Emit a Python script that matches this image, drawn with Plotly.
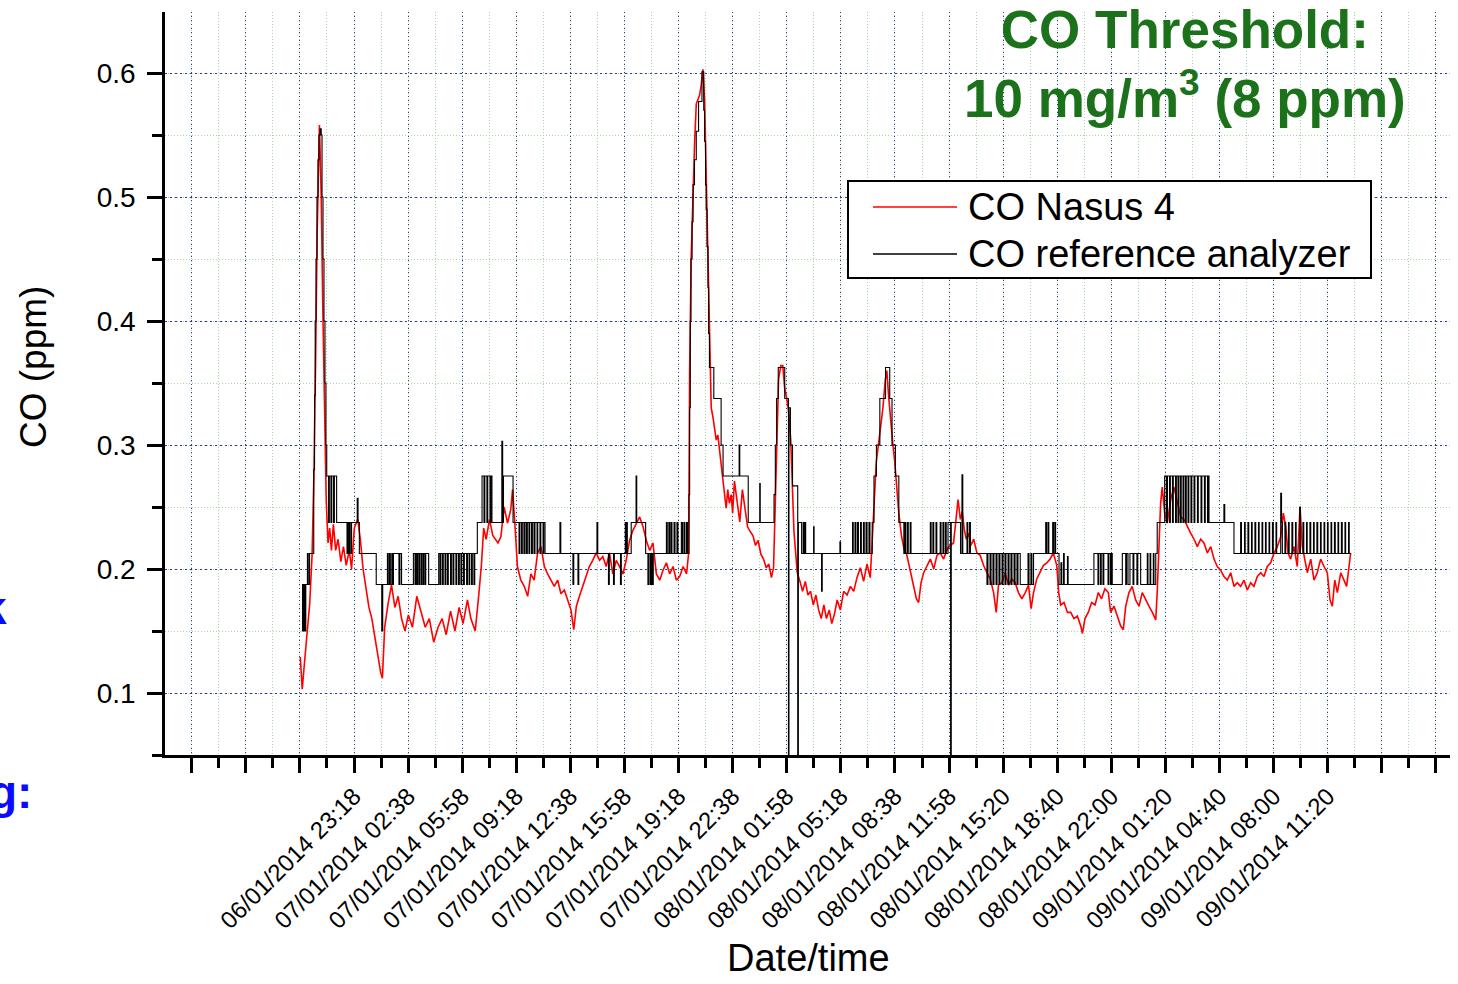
import plotly.graph_objects as go

# ---------------- data (hours after 06/01/2014 23:18, CO in ppm) ----------------
nasus_hours = [
    -3.31, -3.19, -3.06, -2.90, -2.73, -2.58, -2.48, -2.37, -2.27, -2.13, -2.02, -1.92, -1.81, -1.71, -1.60,
    -1.50, -1.39, -1.27, -1.13, -0.98, -0.81, -0.65, -0.48, -0.29, -0.15, 0.02, 0.23, 0.39, 0.56, 0.75,
    0.92, 1.10, 1.27, 1.48, 1.65, 1.75, 1.89, 2.10, 2.31, 2.52, 2.72, 2.93, 3.14, 3.35, 3.60,
    3.87, 4.14, 4.39, 4.64, 4.91, 5.18, 5.43, 5.68, 5.95, 6.22, 6.48, 6.72, 6.99, 7.20, 7.47,
    7.68, 7.85, 7.99, 8.14, 8.35, 8.55, 8.87, 9.05, 9.25, 9.46, 9.66, 9.77, 9.91, 10.07, 10.28,
    10.49, 10.70, 10.90, 11.10, 11.31, 11.52, 11.73, 11.93, 12.14, 12.34, 12.55, 12.75, 12.96, 13.17, 13.37,
    13.54, 13.70, 13.89, 14.09, 14.30, 14.50, 14.71, 14.92, 15.13, 15.33, 15.54, 15.74, 15.95, 16.16, 16.36,
    16.57, 16.77, 16.98, 17.18, 17.39, 17.60, 17.81, 18.01, 18.22, 18.42, 18.63, 18.84, 19.04, 19.25, 19.45,
    19.66, 19.86, 20.07, 20.28, 20.49, 20.62, 20.68, 20.78, 20.88, 20.99, 21.09, 21.19, 21.29, 21.39, 21.50,
    21.60, 21.70, 21.81, 21.90, 22.01, 22.11, 22.21, 22.32, 22.42, 22.52, 22.62, 22.72, 22.82, 22.93, 23.03,
    23.13, 23.24, 23.33, 23.44, 23.60, 23.77, 23.93, 24.09, 24.25, 24.42, 24.58, 24.74, 24.90, 25.07, 25.23,
    25.40, 25.56, 25.72, 25.85, 25.95, 26.05, 26.16, 26.30, 26.42, 26.54, 26.66, 26.78, 26.91, 27.01, 27.11,
    27.22, 27.31, 27.48, 27.64, 27.81, 27.97, 28.13, 28.30, 28.46, 28.63, 28.79, 28.95, 29.11, 29.28, 29.44,
    29.61, 29.77, 29.97, 30.17, 30.38, 30.59, 30.79, 30.99, 31.20, 31.40, 31.61, 31.81, 31.94, 32.05, 32.18,
    32.32, 32.47, 32.59, 32.73, 32.83, 32.95, 33.08, 33.20, 33.32, 33.44, 33.57, 33.73, 33.89, 34.05, 34.28,
    34.49, 34.65, 34.79, 34.94, 35.10, 35.31, 35.51, 35.72, 35.92, 36.12, 36.33, 36.54, 36.74, 36.94, 37.09,
    37.22, 37.36, 37.48, 37.60, 37.73, 37.87, 38.01, 38.18, 38.38, 38.58, 38.79, 39.00, 39.20, 39.41, 39.57,
    39.71, 39.92, 40.12, 40.33, 40.53, 40.74, 40.94, 41.15, 41.36, 41.56, 41.72, 41.87, 42.07, 42.27, 42.48,
    42.69, 42.89, 43.09, 43.30, 43.42, 43.54, 43.75, 43.96, 44.16, 44.36, 44.57, 44.78, 44.88, 45.04, 45.24,
    45.45, 45.66, 45.86, 46.06, 46.27, 46.48, 46.62, 46.83, 47.03, 47.24, 47.40, 47.55, 47.75, 47.95, 48.16,
    48.37, 48.57, 48.78, 48.98, 49.19, 49.40, 49.49, 49.60, 49.70, 49.80, 49.95, 50.11, 50.32, 50.52, 50.73,
    50.94, 51.14, 51.34, 51.55, 51.76, 51.96, 52.17, 52.37, 52.58, 52.79, 52.99, 53.19, 53.40, 53.60, 53.81,
    54.02, 54.22, 54.42, 54.63, 54.84, 55.04, 55.25, 55.45, 55.66, 55.87, 56.07, 56.27, 56.48, 56.69, 56.89,
    57.10, 57.26, 57.41, 57.55, 57.71, 57.92, 58.12, 58.29, 58.43, 58.58, 58.74, 58.95, 59.15, 59.35, 59.56,
    59.77, 59.97, 60.14, 60.28, 60.43, 60.59, 60.80, 61.00, 61.16, 61.31, 61.41,
]
nasus_ppm = [
    0.129, 0.103, 0.123, 0.147, 0.172, 0.212, 0.270, 0.363, 0.470, 0.558, 0.501, 0.409, 0.316, 0.255, 0.221,
    0.233, 0.215, 0.236, 0.215, 0.224, 0.206, 0.218, 0.203, 0.215, 0.200, 0.233, 0.240, 0.224, 0.200, 0.184,
    0.169, 0.160, 0.147, 0.132, 0.116, 0.112, 0.153, 0.172, 0.187, 0.169, 0.178, 0.160, 0.150, 0.163, 0.153,
    0.178, 0.166, 0.153, 0.160, 0.141, 0.153, 0.160, 0.147, 0.166, 0.150, 0.169, 0.156, 0.175, 0.160, 0.150,
    0.178, 0.203, 0.233, 0.224, 0.240, 0.227, 0.221, 0.226, 0.250, 0.237, 0.248, 0.264, 0.237, 0.202, 0.191,
    0.186, 0.178, 0.196, 0.191, 0.213, 0.218, 0.202, 0.196, 0.191, 0.186, 0.191, 0.180, 0.183, 0.175, 0.167,
    0.151, 0.170, 0.178, 0.186, 0.194, 0.202, 0.207, 0.213, 0.207, 0.210, 0.202, 0.213, 0.196, 0.207, 0.202,
    0.196, 0.207, 0.223, 0.231, 0.237, 0.242, 0.234, 0.223, 0.215, 0.221, 0.196, 0.191, 0.199, 0.205, 0.196,
    0.202, 0.191, 0.194, 0.202, 0.196, 0.213, 0.360, 0.453, 0.508, 0.545, 0.575, 0.579, 0.582, 0.590, 0.603,
    0.579, 0.516, 0.453, 0.404, 0.330, 0.323, 0.312, 0.304, 0.308, 0.297, 0.286, 0.275, 0.264, 0.249, 0.264,
    0.253, 0.260, 0.245, 0.271, 0.253, 0.238, 0.264, 0.249, 0.234, 0.230, 0.227, 0.219, 0.223, 0.212, 0.208,
    0.201, 0.204, 0.193, 0.201, 0.249, 0.304, 0.353, 0.364, 0.364, 0.345, 0.338, 0.327, 0.304, 0.267, 0.230,
    0.212, 0.197, 0.190, 0.182, 0.190, 0.179, 0.182, 0.171, 0.179, 0.167, 0.160, 0.171, 0.160, 0.167, 0.156,
    0.164, 0.175, 0.167, 0.182, 0.179, 0.186, 0.182, 0.193, 0.201, 0.190, 0.204, 0.193, 0.227, 0.264, 0.286,
    0.301, 0.316, 0.330, 0.352, 0.360, 0.338, 0.316, 0.301, 0.286, 0.264, 0.245, 0.227, 0.216, 0.212, 0.197,
    0.184, 0.176, 0.173, 0.189, 0.197, 0.203, 0.208, 0.200, 0.211, 0.213, 0.208, 0.216, 0.219, 0.221, 0.240,
    0.256, 0.240, 0.246, 0.232, 0.224, 0.229, 0.219, 0.224, 0.213, 0.211, 0.203, 0.197, 0.192, 0.181, 0.165,
    0.187, 0.189, 0.197, 0.187, 0.192, 0.189, 0.181, 0.176, 0.181, 0.187, 0.168, 0.181, 0.192, 0.197, 0.203,
    0.205, 0.208, 0.213, 0.203, 0.181, 0.171, 0.173, 0.165, 0.165, 0.160, 0.162, 0.154, 0.148, 0.160, 0.165,
    0.173, 0.171, 0.181, 0.176, 0.184, 0.181, 0.165, 0.170, 0.162, 0.154, 0.151, 0.170, 0.181, 0.186, 0.175,
    0.170, 0.181, 0.175, 0.170, 0.165, 0.159, 0.181, 0.213, 0.253, 0.266, 0.245, 0.237, 0.256, 0.266, 0.253,
    0.242, 0.240, 0.234, 0.229, 0.224, 0.218, 0.224, 0.221, 0.213, 0.218, 0.208, 0.202, 0.199, 0.194, 0.191,
    0.197, 0.186, 0.189, 0.186, 0.191, 0.183, 0.189, 0.186, 0.194, 0.197, 0.194, 0.202, 0.205, 0.213, 0.218,
    0.226, 0.245, 0.234, 0.213, 0.208, 0.218, 0.202, 0.250, 0.218, 0.208, 0.197, 0.208, 0.191, 0.197, 0.208,
    0.202, 0.197, 0.175, 0.170, 0.191, 0.181, 0.197, 0.191, 0.186, 0.202, 0.213,
]

ref_hours = [
    -3.22, -3.17, -3.12, -3.08, -3.02, -2.97, -2.87, -2.82, -2.74, -2.51, -2.48, -2.43, -2.39, -2.34, -2.28,
    -2.22, -2.16, -2.09, -2.02, -1.97, -1.91, -1.85, -1.79, -1.73, -1.68, -1.57, -1.52, -1.42, -1.37, -1.26,
    -1.21, -1.07, -0.43, -0.38, -0.31, -0.26, -0.18, -0.15, 0.20, 0.25, 0.33, 1.37, 1.71, 1.77, 2.06,
    2.11, 2.19, 2.24, 2.33, 2.37, 2.43, 2.77, 2.83, 2.93, 3.66, 3.76, 3.81, 3.88, 3.92, 4.00,
    4.04, 4.13, 4.17, 4.25, 4.29, 4.37, 4.42, 4.60, 5.22, 5.30, 5.35, 5.45, 5.50, 5.61, 5.66,
    5.76, 5.81, 5.95, 6.00, 6.10, 6.15, 6.28, 6.33, 6.44, 6.49, 6.59, 6.64, 6.75, 6.80, 6.94,
    6.99, 7.09, 7.13, 7.24, 7.29, 7.39, 7.44, 7.60, 7.89, 8.01, 8.06, 8.19, 8.24, 8.38, 8.43,
    8.50, 9.11, 9.16, 9.21, 9.80, 10.17, 10.22, 10.32, 10.37, 10.47, 10.54, 10.63, 10.68, 10.78, 10.83,
    10.94, 10.99, 11.09, 11.15, 11.28, 11.32, 11.46, 11.51, 11.65, 11.69, 11.77, 12.69, 12.74, 13.49, 13.54,
    13.80, 13.85, 14.97, 15.02, 15.68, 15.73, 15.99, 16.04, 16.42, 16.47, 16.72, 16.75, 16.80, 16.84, 17.08,
    17.38, 17.42, 17.97, 18.11, 18.18, 18.27, 18.32, 18.39, 18.44, 19.25, 19.30, 19.40, 19.45, 19.53, 19.59,
    19.72, 19.78, 19.90, 19.96, 20.17, 20.24, 20.33, 20.39, 20.49, 20.55, 20.64, 20.68, 20.72, 20.76, 20.83,
    20.89, 20.98, 21.09, 21.23, 21.44, 21.55, 21.60, 21.66, 21.70, 21.75, 21.81, 21.85, 21.90, 22.17, 22.62,
    22.74, 23.73, 23.77, 24.29, 25.00, 25.03, 25.88, 25.96, 26.04, 26.14, 26.54, 26.77, 26.80, 26.89, 27.02,
    27.34, 27.38, 27.58, 27.68, 27.72, 27.79, 27.83, 28.32, 28.35, 28.81, 28.85, 29.94, 29.98, 30.72, 30.76,
    30.87, 30.92, 31.02, 31.08, 31.21, 31.26, 31.39, 31.44, 31.55, 31.61, 31.73, 31.79, 31.93, 32.04, 32.19,
    32.40, 32.75, 33.01, 33.15, 33.36, 33.57, 33.88, 33.95, 34.00, 34.10, 34.15, 34.27, 34.32, 35.51, 35.56,
    35.67, 35.72, 35.86, 35.91, 36.12, 36.17, 36.29, 36.34, 36.44, 36.49, 36.60, 36.76, 36.80, 37.37, 37.46,
    37.51, 37.77, 37.82, 37.93, 37.98, 39.00, 39.06, 39.19, 39.25, 39.37, 39.43, 39.56, 39.62, 39.74, 39.80,
    39.93, 39.99, 40.11, 40.17, 40.30, 40.36, 40.48, 40.54, 40.67, 40.73, 40.85, 40.91, 41.05, 41.53, 41.59,
    41.71, 41.77, 41.87, 42.62, 42.67, 42.76, 42.81, 43.05, 43.10, 43.18, 43.23, 43.44, 43.56, 43.61, 43.72,
    43.76, 43.96, 44.00, 45.59, 45.84, 45.89, 46.00, 46.04, 46.15, 46.20, 46.46, 46.51, 46.61, 46.66, 46.72,
    47.34, 47.55, 47.60, 47.69, 47.81, 48.00, 48.05, 48.24, 48.29, 48.47, 48.88, 48.92, 49.05, 49.09, 49.25,
    49.29, 49.40, 49.49, 49.95, 50.06, 50.12, 50.25, 50.30, 50.43, 50.48, 50.62, 50.67, 50.77, 50.82, 50.92,
    50.97, 51.08, 51.13, 51.23, 51.28, 51.39, 51.44, 51.57, 51.62, 51.76, 51.81, 51.97, 52.02, 52.19, 52.24,
    52.40, 52.45, 52.59, 52.64, 52.68, 53.60, 53.65, 54.22, 54.63, 54.68, 54.87, 54.91, 55.08, 55.13, 55.30,
    55.34, 55.51, 55.56, 55.73, 55.77, 55.95, 55.99, 56.16, 56.20, 56.38, 56.42, 56.59, 56.64, 56.81, 56.85,
    57.10, 57.15, 57.20, 57.36, 57.41, 57.58, 57.62, 57.79, 57.84, 58.01, 58.05, 58.27, 58.31, 58.47, 58.52,
    58.69, 58.73, 58.90, 58.95, 59.12, 59.16, 59.33, 59.38, 59.55, 59.59, 59.77, 59.81, 59.98, 60.02, 60.20,
    60.24, 60.41, 60.46, 60.63, 60.67, 60.84, 60.89, 61.06, 61.10, 61.28, 61.32, 61.41,
]
ref_ppm = [
    0.150, 0.1875, 0.150, 0.1875, 0.150, 0.1875, 0.2125, 0.1875, 0.2125, 0.2125, 0.28, 0.34, 0.40, 0.45, 0.50,
    0.53, 0.55, 0.555, 0.55, 0.50, 0.45, 0.40, 0.35, 0.30, 0.275, 0.2375, 0.275, 0.2375, 0.275, 0.2375,
    0.275, 0.2375, 0.2125, 0.2375, 0.2125, 0.2375, 0.2125, 0.2375, 0.257, 0.2375, 0.2125, 0.1875, 0.150, 0.1875, 0.2125,
    0.1875, 0.2125, 0.1875, 0.2125, 0.1875, 0.2125, 0.1875, 0.2125, 0.1875, 0.2125, 0.1875, 0.2125, 0.1875, 0.2125, 0.1875,
    0.2125, 0.1875, 0.2125, 0.1875, 0.2125, 0.1875, 0.2125, 0.1875, 0.2125, 0.1875, 0.2125, 0.1875, 0.2125, 0.1875, 0.2125,
    0.1875, 0.2125, 0.1875, 0.2125, 0.1875, 0.2125, 0.1875, 0.2125, 0.1875, 0.2125, 0.1875, 0.2125, 0.1875, 0.2125, 0.1875,
    0.2125, 0.1875, 0.2125, 0.1875, 0.2125, 0.1875, 0.2125, 0.2375, 0.275, 0.2375, 0.275, 0.2375, 0.275, 0.2375, 0.275,
    0.2375, 0.303, 0.2375, 0.275, 0.2375, 0.2125, 0.2375, 0.2125, 0.2375, 0.2125, 0.2375, 0.2125, 0.2375, 0.2125, 0.2375,
    0.2125, 0.2375, 0.2125, 0.2375, 0.2125, 0.2375, 0.2125, 0.2375, 0.2125, 0.2375, 0.2125, 0.2375, 0.2125, 0.1875, 0.2125,
    0.1875, 0.2125, 0.2375, 0.2125, 0.1875, 0.2125, 0.1875, 0.2125, 0.1875, 0.2125, 0.2375, 0.2125, 0.2375, 0.2125, 0.2375,
    0.275, 0.2375, 0.2125, 0.1875, 0.2125, 0.1875, 0.2125, 0.1875, 0.2125, 0.2375, 0.2125, 0.2375, 0.2125, 0.2375, 0.2125,
    0.2375, 0.2125, 0.2375, 0.2125, 0.2375, 0.2125, 0.2375, 0.2125, 0.2375, 0.2125, 0.26, 0.33, 0.40, 0.45, 0.48,
    0.51, 0.53, 0.553, 0.577, 0.601, 0.57, 0.545, 0.51, 0.49, 0.46, 0.427, 0.39, 0.3625, 0.3375, 0.30,
    0.275, 0.30, 0.275, 0.2375, 0.269, 0.2375, 0.26, 0.30, 0.3375, 0.3625, 0.3375, 0.04, 0.33, 0.30, 0.267,
    0.04, 0.2375, 0.2125, 0.2375, 0.2125, 0.2375, 0.2125, 0.234, 0.2125, 0.182, 0.2125, 0.222, 0.2125, 0.2375, 0.2125,
    0.2375, 0.2125, 0.2375, 0.2125, 0.2375, 0.2125, 0.2375, 0.2125, 0.2375, 0.2125, 0.2375, 0.2125, 0.2375, 0.275, 0.30,
    0.3375, 0.3625, 0.3375, 0.30, 0.275, 0.2375, 0.2125, 0.2375, 0.2125, 0.2375, 0.2125, 0.2375, 0.2125, 0.2375, 0.2125,
    0.2375, 0.2125, 0.2375, 0.2125, 0.2375, 0.2125, 0.2375, 0.2125, 0.2375, 0.2125, 0.2375, 0.04, 0.2375, 0.2125, 0.276,
    0.2125, 0.2375, 0.2125, 0.2375, 0.2125, 0.1875, 0.2125, 0.1875, 0.2125, 0.1875, 0.2125, 0.1875, 0.2125, 0.1875, 0.2125,
    0.1875, 0.2125, 0.1875, 0.2125, 0.1875, 0.2125, 0.1875, 0.2125, 0.1875, 0.2125, 0.1875, 0.2125, 0.1875, 0.2125, 0.1875,
    0.2125, 0.1875, 0.2125, 0.2375, 0.2125, 0.2375, 0.2125, 0.2375, 0.2125, 0.2375, 0.2125, 0.1875, 0.205, 0.1875, 0.2125,
    0.1875, 0.21, 0.1875, 0.2125, 0.1875, 0.2125, 0.1875, 0.2125, 0.1875, 0.2125, 0.1875, 0.2125, 0.1875, 0.2125, 0.1875,
    0.2125, 0.1875, 0.2125, 0.1875, 0.2125, 0.1875, 0.2125, 0.1875, 0.2125, 0.1875, 0.2125, 0.1875, 0.2125, 0.1875, 0.2125,
    0.1875, 0.2125, 0.2375, 0.275, 0.2375, 0.275, 0.2375, 0.275, 0.2375, 0.275, 0.2375, 0.275, 0.2375, 0.275, 0.2375,
    0.275, 0.2375, 0.275, 0.2375, 0.275, 0.2375, 0.275, 0.2375, 0.275, 0.2375, 0.275, 0.2375, 0.275, 0.2375, 0.275,
    0.2375, 0.275, 0.2375, 0.275, 0.2375, 0.252, 0.2375, 0.2125, 0.2375, 0.2125, 0.2375, 0.2125, 0.2375, 0.2125, 0.2375,
    0.2125, 0.2375, 0.2125, 0.2375, 0.2125, 0.2375, 0.2125, 0.2375, 0.2125, 0.2375, 0.2125, 0.2375, 0.2125, 0.2375, 0.2125,
    0.261, 0.2375, 0.2125, 0.2375, 0.2125, 0.2375, 0.2125, 0.2375, 0.2125, 0.2375, 0.2125, 0.25, 0.2125, 0.2375, 0.2125,
    0.2375, 0.2125, 0.2375, 0.2125, 0.2375, 0.2125, 0.2375, 0.2125, 0.2375, 0.2125, 0.2375, 0.2125, 0.2375, 0.2125, 0.2375,
    0.2125, 0.2375, 0.2125, 0.2375, 0.2125, 0.2375, 0.2125, 0.2375, 0.2125, 0.2375, 0.2125, 0.2125,
]

date_tick_labels = [
    "06/01/2014 23:18", "07/01/2014 02:38", "07/01/2014 05:58", "07/01/2014 09:18", "07/01/2014 12:38",
    "07/01/2014 15:58", "07/01/2014 19:18", "07/01/2014 22:38", "08/01/2014 01:58", "08/01/2014 05:18",
    "08/01/2014 08:38", "08/01/2014 11:58", "08/01/2014 15:20", "08/01/2014 18:40", "08/01/2014 22:00",
    "09/01/2014 01:20", "09/01/2014 04:40", "09/01/2014 08:00", "09/01/2014 11:20",
]
y_tick_values = [0.1, 0.2, 0.3, 0.4, 0.5, 0.6]
y_tick_labels = ["0.1", "0.2", "0.3", "0.4", "0.5", "0.6"]

series_names = ["CO Nasus 4", "CO reference analyzer"]
series_colors = ["#ff0000", "#000000"]

# ---------------- layout constants ----------------
W, H = 1458, 984
ML, MR, MT, MB = 165, 8, 12, 229
TICK_STEP_H = 10.0 / 3.0           # 3 h 20 min between major ticks
UNLABELLED_BEFORE, UNLABELLED_AFTER = 3, 2
X_RANGE = [-11.645, 67.53]
Y_RANGE = [0.05, 0.6492]
FONT = "Liberation Sans, Arial, sans-serif"
GRID_BLUE = "#34349a"
GRID_GREEN = "#a6d8a6"


def paper_x(px):
    return (px - ML) / (W - ML - MR)


def paper_y(py):
    return (H - MB - py) / (H - MT - MB)


n_major = len(date_tick_labels) + UNLABELLED_BEFORE + UNLABELLED_AFTER
x_tick_vals = [(k - UNLABELLED_BEFORE) * TICK_STEP_H for k in range(n_major)]
x_tick_text = [""] * UNLABELLED_BEFORE + date_tick_labels + [""] * UNLABELLED_AFTER

fig = go.Figure()
fig.add_trace(go.Scatter(x=nasus_hours, y=nasus_ppm, mode="lines", name=series_names[0],
                         line=dict(color=series_colors[0], width=1.6), showlegend=False))
fig.add_trace(go.Scatter(x=ref_hours, y=ref_ppm, mode="lines", name=series_names[1],
                         line=dict(color=series_colors[1], width=1.1, shape="hv"), showlegend=False))

fig.update_layout(
    width=W, height=H,
    margin=dict(l=ML, r=MR, t=MT, b=MB, autoexpand=False),
    paper_bgcolor="white", plot_bgcolor="white",
    font=dict(family=FONT, color="black"),
    xaxis=dict(
        range=X_RANGE, tickmode="array", tickvals=x_tick_vals, ticktext=x_tick_text,
        tickangle=-45, ticks="outside", ticklen=15, tickwidth=2.5, tickcolor="black",
        showline=True, linecolor="black", linewidth=2.5, zeroline=False,
        showgrid=True, gridcolor=GRID_BLUE, gridwidth=1, griddash="1px,3px",
        tickfont=dict(size=24, family=FONT, color="black"),
        minor=dict(tickmode="linear", tick0=0, dtick=TICK_STEP_H / 2, ticks="outside", ticklen=10,
                   tickwidth=2.5, tickcolor="black", showgrid=True, gridcolor=GRID_GREEN,
                   gridwidth=1, griddash="1px,2px"),
    ),
    yaxis=dict(
        range=Y_RANGE, tickmode="array", tickvals=y_tick_values, ticktext=y_tick_labels,
        ticks="outside", ticklen=15, tickwidth=2.5, tickcolor="black", ticklabelstandoff=6,
        showline=True, linecolor="black", linewidth=2.5, zeroline=False,
        showgrid=True, gridcolor=GRID_BLUE, gridwidth=1, griddash="2px,3px",
        tickfont=dict(size=28, family=FONT, color="black"),
        minor=dict(tickmode="linear", tick0=0, dtick=0.05, ticks="outside", ticklen=10,
                   tickwidth=2.5, tickcolor="black", showgrid=True, gridcolor=GRID_GREEN,
                   gridwidth=1, griddash="1px,2px"),
    ),
)

# ---------------- hand-drawn legend box (matches long line samples of the original) ----------------
shapes = [
    dict(type="rect", xref="paper", yref="paper", x0=paper_x(848), x1=paper_x(1371),
         y0=paper_y(278), y1=paper_y(181), line=dict(color="black", width=2), fillcolor="white", layer="above"),
    dict(type="line", xref="paper", yref="paper", x0=paper_x(873), x1=paper_x(957),
         y0=paper_y(207), y1=paper_y(207), line=dict(color=series_colors[0], width=1.5), layer="above"),
    dict(type="line", xref="paper", yref="paper", x0=paper_x(873), x1=paper_x(957),
         y0=paper_y(254), y1=paper_y(254), line=dict(color=series_colors[1], width=1.5), layer="above"),
]
annotations = [
    dict(xref="paper", yref="paper", x=paper_x(966), y=paper_y(207), text=series_names[0],
         xanchor="left", yanchor="middle", showarrow=False, font=dict(size=38, family=FONT, color="black")),
    dict(xref="paper", yref="paper", x=paper_x(966), y=paper_y(254), text=series_names[1],
         xanchor="left", yanchor="middle", showarrow=False, font=dict(size=38, family=FONT, color="black")),
    # axis titles
    dict(xref="paper", yref="paper", x=paper_x(33), y=paper_y(367), text="CO (ppm)", textangle=-90,
         xanchor="center", yanchor="middle", showarrow=False, font=dict(size=37, family=FONT, color="black")),
    dict(xref="paper", yref="paper", x=paper_x(808), y=paper_y(958), text="Date/time",
         xanchor="center", yanchor="middle", showarrow=False, font=dict(size=38, family=FONT, color="black")),
    dict(xref="paper", yref="paper", x=paper_x(1185), y=paper_y(64),
         text="<b>CO Threshold:<br>10 mg/m<sup>3</sup> (8 ppm)</b>",
         xanchor="center", yanchor="middle", showarrow=False, align="center",
         font=dict(size=53, family=FONT, color="#1b721b")),
    # fragments of surrounding slide text cut off at the left edge
    dict(xref="paper", yref="paper", x=paper_x(9), y=paper_y(608), text="<b>k</b>",
         xanchor="right", yanchor="middle", showarrow=False, font=dict(size=46, family=FONT, color="#0a0aff")),
    dict(xref="paper", yref="paper", x=paper_x(34), y=paper_y(792), text="<b>g:</b>",
         xanchor="right", yanchor="middle", showarrow=False, font=dict(size=46, family=FONT, color="#0a0aff")),
]
fig.update_layout(shapes=shapes, annotations=annotations)

# remove the browser's default 8px body margin so the figure sits at the window's corner
fig.write_html("out.html", config=dict(displayModeBar=False),
               post_script="document.body.style.margin='0px';document.body.style.overflow='hidden';")
